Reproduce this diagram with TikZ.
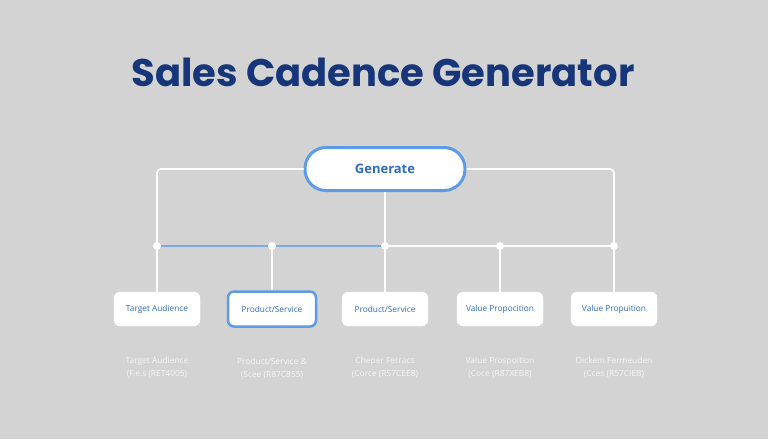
\documentclass[tikz,border=0pt]{standalone}
\usepackage{fontspec}
\setmainfont{Open Sans}
\newfontfamily\headfont{Poppins}
\usetikzlibrary{positioning}

\definecolor{canvas}{HTML}{D3D3D3}
\definecolor{navy}{HTML}{17367A}
\definecolor{inkblue}{HTML}{2E6CC0}
\definecolor{rimblue}{HTML}{5E9BE6}
\definecolor{wireblue}{HTML}{7AAAE6}
\definecolor{hinttext}{HTML}{F6F6F6}

\tikzset{
	field/.style={draw=white, fill=white, rounded corners=6pt, minimum width=86pt, minimum height=34pt, text=inkblue, font=\fontsize{8.3}{10}\selectfont},
	hint/.style={below=27pt of #1, align=center, text=hinttext, font=\fontsize{8.4}{13}\selectfont},
	wire/.style={draw=white, line width=1.6pt},
	joint/.style={circle, fill=white, inner sep=0pt, minimum size=8pt}
}

\begin{document}
\begin{tikzpicture}[x=1pt,y=-1pt]
			\fill[canvas] (0,0) rectangle (768,439);
			\useasboundingbox (0,0) rectangle (768,439);
			\node[text=navy, font=\headfont\bfseries\fontsize{38.5}{42}\selectfont] (title) at (383,72) {Sales Cadence Generator};
			\node[draw=rimblue, line width=3pt, fill=white, rounded corners=21pt, minimum width=160pt, minimum height=43pt, text=inkblue, font=\bfseries\fontsize{13}{15}\selectfont] (gen) at (385,169) {Generate};
			% input fields
			\node[field] (f1) at (157,309) {Target Audience};
			\node[field, draw=rimblue, line width=2.5pt, minimum width=88pt, minimum height=35pt] (f2) at (272,309) {Product/Service};
			\node[field] (f3) at (385,309) {Product/Service};
			\node[field] (f4) at (500,309) {Value Propocition};
			\node[field] (f5) at (614,309) {Value Propuition};
			\foreach \x [count=\i] in {157,272,385,500,614}
				\coordinate (j\i) at (\x,246);
			% connectors
			\draw[wire, rounded corners=4pt] (gen.west) -| (j1);
			\draw[wire, rounded corners=4pt] (gen.east) -| (j5);
			\draw[wire] (gen.south) -- (j3);
			\draw[wire, draw=wireblue] (j1) -- (j3);
			\draw[wire] (j3) -- (j5);
			\foreach \i in {1,...,5}
				\draw[wire] (j\i) -- (f\i);
			\foreach \i in {1,...,5}
				\node[joint] at (j\i) {};
			% notes
			\node[hint=f1] (h1) {Target Audience\\(F.e.s (RET4005)};
			\node[hint=f2] (h2) {Product/Service \&\\(Scee (R87C855)};
			\node[hint=f3] (h3) {Cheper Ferracs\\(Corce (R57CEE8)};
			\node[hint=f4] (h4) {Value Prospoition\\(Coce (R87XEB8)};
			\node[hint=f5] (h5) {Oickem Fermeuden\\(Cces (R57CIEB)};
		\end{tikzpicture}
\end{document}
